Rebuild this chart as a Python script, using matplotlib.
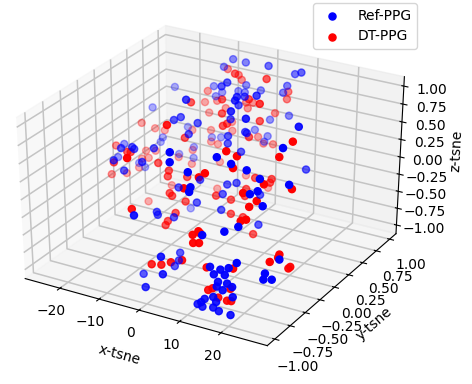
import numpy as np
import matplotlib
matplotlib.use('Agg')
import matplotlib.pyplot as plt

# t-SNE embedding, Ref-PPG
ref_x = [-25.4,-4.9,-28.0,-9.3,-10.4,-5.7,-20.1,-6.7,-24.4,
         -24.5,-12.3,-27.9,-18.5,-16.5,-16.0,4.2,-20.1,-17.6,
         -16.9,-27.9,-19.1,-12.5,-6.9,-10.3,1.2,5.4,9.2,
         -2.8,-3.6,-15.1,-6.9,-13.1,-8.9,-7.1,-3.0,3.5,
         2.5,-14.6,7.0,3.7,1.4,4.3,0.8,6.2,0.2,
         11.0,-0.7,4.1,22.5,-4.4,3.7,4.1,0.8,-12.9,
         -14.7,1.2,-1.1,-2.1,23.9,4.2,12.8,-27.4,-13.7,
         -26.0,-16.5,4.8,8.6,-1.7,-5.2,10.0,10.0,-0.8,
         -14.1,-7.7,-7.3,-4.2,-1.9,14.3,15.7,18.9,17.5,
         21.7,5.4,3.7,27.2,3.5,20.9,22.1,10.5,23.9,
         4.2,12.1,20.8,18.6,4.5,-0.8,-0.5,-0.9,-6.2,
         4.9,0.6,16.3,17.2,18.6,19.8,20.7,22.6,18.2,
         17.9,20.2,21.4,19.3,16.9,17.6,15.0,14.0,13.3,
         14.3,16.9,18.4,21.2,21.7,30.0,28.3,29.9,28.4]
ref_y = [1.04,-0.06,0.83,0.13,0.09,0.17,0.92,0.09,0.77,
         0.74,-0.11,0.36,-0.24,-0.19,-0.19,-0.88,0.77,0.86,
         0.81,0.26,-0.32,1.04,1.04,1.05,0.88,1.05,0.89,
         0.46,0.42,1.04,1.05,1.05,1.05,1.04,1.04,1.05,
         1.05,1.04,0.29,0.19,0.47,0.12,0.41,-0.07,0.32,
         -0.15,1.05,1.05,-0.08,1.04,0.33,0.33,0.24,1.02,
         0.98,0.21,1.04,1.05,-0.43,0.23,-0.72,0.56,-0.21,
         0.57,-0.32,-0.92,-0.89,-0.05,-0.17,-0.94,-0.96,-0.16,
         0.58,-0.36,-0.37,-0.31,-1.05,-1.04,-0.69,-0.66,0.42,
         -0.64,0.08,0.04,-0.55,-0.02,-0.74,-0.70,0.13,-0.74,
         -0.09,0.00,-0.91,-0.98,-1.05,-0.43,-0.47,-0.51,-0.67,
         -1.05,-1.05,-1.05,-1.05,-1.04,-1.05,-1.05,-1.05,-1.05,
         -1.05,-1.04,-1.04,-1.05,-1.04,-1.04,-1.05,-1.04,-1.05,
         -1.04,-1.04,-1.05,-1.05,-1.05,-0.88,-0.99,-0.99,-1.02]
ref_z = [0.33,1.05,0.12,0.64,0.61,0.58,-0.12,0.46,-0.24,
         -0.29,0.31,-0.13,0.31,0.32,0.30,0.96,-0.43,-0.35,
         -0.47,-0.26,0.18,0.78,0.91,0.91,1.05,0.89,1.05,
         1.01,0.97,0.47,0.58,0.40,0.47,0.48,0.56,0.70,
         0.59,0.33,1.05,1.05,0.86,1.05,0.77,1.04,0.62,
         1.05,0.16,0.28,1.05,-0.03,0.48,0.47,0.44,-0.24,
         -0.24,0.36,-0.08,-0.18,1.00,0.27,0.91,-0.53,0.16,
         -0.58,0.07,0.86,0.76,-0.03,-0.11,0.61,0.56,-0.27,
         -1.04,-0.37,-0.40,-0.43,0.13,0.09,0.84,0.78,0.08,
         0.69,-0.06,-0.08,0.63,-0.18,0.54,0.57,-0.19,0.42,
         -0.35,-0.51,0.21,0.16,-0.35,-0.81,-0.89,-0.95,-1.03,
         -0.59,-0.84,-0.31,-0.40,-0.32,-0.37,-0.26,-0.16,-0.49,
         -0.56,-0.49,-0.52,-0.59,-0.73,-0.79,-0.78,-0.85,-0.88,
         -0.91,-0.88,-0.90,-0.91,-0.65,-0.12,-0.26,-0.32,-0.32]

# t-SNE embedding, DT-PPG
dt_x = [-8.3,-28.0,-26.6,-1.6,-24.5,-19.1,-7.2,-17.6,-16.7,
        -16.5,-28.0,-26.8,-24.9,-17.1,-16.4,-17.6,-19.9,-25.8,
        -27.1,-3.4,-11.5,-3.0,-8.7,-7.9,4.4,3.8,3.5,
        -14.4,-2.7,2.3,-6.9,-5.1,9.7,-6.3,-12.0,-1.8,
        0.7,5.8,-10.5,-0.2,-0.8,-15.4,-10.4,4.8,-3.7,
        -14.6,-13.1,-2.3,0.3,25.0,14.1,16.3,23.8,-18.9,
        -28.0,-27.9,-27.1,-10.6,-8.1,-7.9,-16.9,-4.3,11.7,
        10.9,-19.4,8.9,-6.5,-5.9,-22.9,-3.0,-2.4,-4.1,
        -5.1,-5.2,13.4,12.2,12.3,13.7,-11.5,16.3,-5.4,
        8.5,22.8,11.7,11.6,-0.2,28.0,-10.2,2.3,7.5,
        19.6,7.8,5.4,22.5,21.5,6.3,8.7,21.7,20.9,
        11.7,13.8,2.2,4.4,6.9,9.6,15.5,21.6,15.7,
        16.9,21.0,18.1,20.2,21.2,29.7,29.7,28.5,30.0,
        30.0]
dt_y = [0.23,0.65,0.78,-0.56,0.81,0.93,0.06,1.05,1.04,
        1.05,0.24,0.64,0.68,-0.23,-0.22,0.84,0.75,0.62,
        0.59,-1.04,1.04,0.60,1.04,1.04,0.63,1.05,1.05,
        1.05,0.37,0.48,1.05,1.05,0.16,1.04,1.04,0.31,
        1.04,0.43,1.05,0.29,0.26,1.01,1.05,0.32,1.05,
        0.96,0.98,1.05,1.04,-0.35,-0.66,-0.64,-0.48,-0.33,
        0.16,0.39,0.54,-0.15,-0.14,-0.17,0.78,-0.09,-0.83,
        -0.87,0.60,-0.97,-0.23,-0.23,0.43,-0.20,-1.05,-0.29,
        -0.35,-0.38,-1.04,-1.05,-1.05,-1.05,0.91,-0.70,0.96,
        0.18,-0.65,0.24,0.22,1.00,-0.56,0.78,-0.05,0.10,
        -0.76,0.06,-0.01,-0.74,-0.79,-0.07,-0.03,-0.85,-0.88,
        -0.06,-1.04,-1.05,-1.04,-1.05,-1.05,-1.05,-1.04,-1.04,
        -1.05,-1.04,-1.04,-1.04,-1.04,-0.86,-0.88,-0.93,-0.70,
        -0.73]
dt_z = [0.80,0.00,-0.14,1.05,-0.16,-0.16,0.42,0.20,0.38,
        0.06,-0.08,-0.39,-0.39,0.27,0.27,-0.38,-0.46,-0.47,
        -0.48,0.88,0.76,1.05,0.71,0.65,1.05,0.62,0.51,
        0.26,0.83,0.83,0.33,0.35,1.05,0.26,0.19,0.68,
        0.28,0.60,0.00,0.57,0.55,-0.16,-0.13,0.43,-0.13,
        -0.29,-0.32,-0.21,-0.18,1.05,0.97,0.92,0.91,0.16,
        -0.45,-0.58,-0.58,0.15,0.07,0.01,-0.54,0.00,0.75,
        0.71,-0.78,0.60,-0.17,-0.20,-0.96,-0.26,0.21,-0.38,
        -0.47,-0.51,0.13,0.07,-0.04,-0.02,-0.52,0.80,-0.67,
        -0.01,0.64,-0.02,-0.06,-0.81,0.59,-0.82,-0.20,-0.13,
        0.55,-0.20,-0.24,0.47,0.41,-0.39,-0.43,0.28,0.27,
        -0.61,0.11,-0.49,-0.47,-0.39,-0.32,-0.33,-0.26,-0.65,
        -0.60,-0.55,-0.72,-0.73,-0.72,-0.07,-0.10,-0.14,-0.35,
        -0.35]

x_ticks = [-20, -10, 0, 10, 20]
yz_ticks = [-1.0, -0.75, -0.5, -0.25, 0.0, 0.25, 0.5, 0.75, 1.0]

plt.rcParams['grid.linewidth'] = 1.1
plt.rcParams['grid.color'] = '#c4c4c4'

W, H = 472, 384
fig = plt.figure(figsize=(W / 100, H / 100), dpi=100)
ax = fig.add_axes([-9.5 / W, 16.6 / H, 435.2 / W, 368.7 / H], projection='3d')
# the reference stretches the 3D box to fill the axes
ax.apply_aspect = lambda position=None: None
ax.set_box_aspect((4, 4, 3.12))
ax.computed_zorder = False

ax.scatter(ref_x, ref_y, ref_z, c='b', s=26, label='Ref-PPG', zorder=3)
ax.scatter(dt_x, dt_y, dt_z, c='r', s=26, label='DT-PPG', zorder=2)

ax.set_xlim(-29, 31)
ax.set_ylim(-1.12, 1.12)
ax.set_zlim(-1.13, 1.13)
ax.set_xticks(x_ticks)
ax.set_yticks(yz_ticks)
ax.set_zticks(yz_ticks)
ax.tick_params(axis='x', pad=1)
ax.tick_params(axis='y', pad=5.5)
ax.set_xlabel('x-tsne', labelpad=3)
ax.set_ylabel('y-tsne')
ax.set_zlabel('z-tsne', labelpad=2.5)

fig.legend(loc='upper left', bbox_to_anchor=(313 / W, 1 - 3 / H), borderaxespad=0)
fig.savefig('out.png', dpi=100)
